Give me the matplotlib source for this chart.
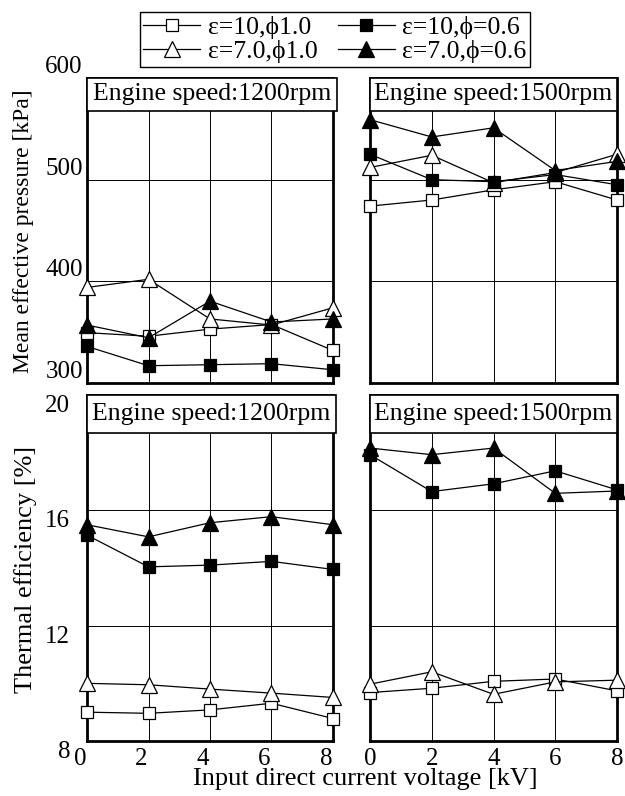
import numpy as np
import matplotlib.pyplot as plt
import matplotlib.transforms as mtransforms
from matplotlib.patches import Rectangle

plt.rcParams['font.family'] = ['Liberation Serif', 'DejaVu Serif']

voltage = [0, 2, 4, 6, 8]

# mean effective pressure [kPa]
mep_1200 = {
    'sq_open': [349.5, 346, 353, 357.5, 332],
    'sq_fill': [336, 317, 318, 319, 313],
    'tri_open': [394, 402, 363, 357, 374],
    'tri_fill': [357, 344.5, 380.5, 360, 363],
}
mep_1500 = {
    'sq_open': [474, 480, 490, 498, 480],
    'sq_fill': [525, 500, 498, 505, 495],
    'tri_open': [512, 524, 497, 507, 525],
    'tri_fill': [559, 542, 551, 509, 518],
}
# thermal efficiency [%]
eff_1200 = {
    'sq_open': [9.0, 8.96, 9.08, 9.31, 8.78],
    'sq_fill': [15.14, 14.04, 14.1, 14.23, 13.95],
    'tri_open': [10.0, 9.95, 9.8, 9.66, 9.51],
    'tri_fill': [15.5, 15.08, 15.57, 15.78, 15.5],
}
eff_1500 = {
    'sq_open': [9.68, 9.83, 10.07, 10.15, 9.74],
    'sq_fill': [17.93, 16.65, 16.92, 17.37, 16.71],
    'tri_open': [9.97, 10.4, 9.62, 10.05, 10.11],
    'tri_fill': [18.16, 17.93, 18.16, 16.59, 16.67],
}

labels = {
    'sq_open': 'ε=10,ϕ1.0',
    'sq_fill': 'ε=10,ϕ=0.6',
    'tri_open': 'ε=7.0,ϕ1.0',
    'tri_fill': 'ε=7.0,ϕ=0.6',
}
styles = {
    'sq_open': dict(marker='s', mfc='white', ms=8),
    'sq_fill': dict(marker='s', mfc='black', ms=8),
    'tri_open': dict(marker='^', mfc='white', ms=11),
    'tri_fill': dict(marker='^', mfc='black', ms=11),
}

W, H = 625, 796
fig = plt.figure(figsize=(W / 100, H / 100), dpi=100)


def make_axes(x0, y0, x1, y1):
    return fig.add_axes([x0 / W, 1 - y1 / H, (x1 - x0) / W, (y1 - y0) / H])


def draw_panel(ax, data, ylim, yticks, title, box_h, box_w=1.0):
    for key in ['sq_open', 'tri_open', 'sq_fill', 'tri_fill']:
        ax.plot(voltage, data[key], color='black', lw=0.9, mec='black',
                mew=0.9, clip_on=False, zorder=3, label=labels[key],
                **styles[key])
    ax.set_xlim(0, 8)
    ax.set_ylim(*ylim)
    ax.set_xticks([0, 2, 4, 6, 8])
    ax.set_yticks(yticks)
    ax.grid(True, color='black', lw=0.7)
    ax.tick_params(length=0, labelsize=18)
    for side in ['left', 'right', 'bottom']:
        ax.spines[side].set_linewidth(2.0)
    ax.spines['top'].set_linewidth(1.3)
    # title box sitting inside the top of the panel
    ax.add_patch(Rectangle((0, 1 - box_h), box_w, box_h, transform=ax.transAxes,
                           facecolor='white', edgecolor='black', lw=1.2,
                           clip_on=False, zorder=5))
    ax.text(box_w / 2, 1 - box_h / 2, title, transform=ax.transAxes,
            ha='center', va='center', fontsize=18.5, zorder=6)


ax_tl = make_axes(87, 78, 333, 383)
ax_tr = make_axes(370, 78, 617, 383)
ax_bl = make_axes(87, 395, 333, 741)
ax_br = make_axes(370, 395, 617, 741)

draw_panel(ax_tl, mep_1200, (300, 600), [300, 400, 500, 600],
           'Engine speed:1200rpm', 0.108, 1.016)
draw_panel(ax_tr, mep_1500, (300, 600), [300, 400, 500, 600],
           'Engine speed:1500rpm', 0.108)
draw_panel(ax_bl, eff_1200, (8, 20), [8, 12, 16, 20],
           'Engine speed:1200rpm', 0.11, 1.012)
draw_panel(ax_br, eff_1500, (8, 20), [8, 12, 16, 20],
           'Engine speed:1500rpm', 0.11)

for ax in [ax_tl, ax_tr]:
    ax.tick_params(labelbottom=False)
for ax in [ax_tr, ax_br]:
    ax.tick_params(labelleft=False)

ax_tl.tick_params(axis='y', pad=3)
for lab in ax_tl.get_yticklabels():
    lab.set_verticalalignment('bottom')
ax_bl.tick_params(axis='y', pad=12)
for lab in ax_bl.get_yticklabels():
    lab.set_verticalalignment('top')
ax_bl.tick_params(axis='x', pad=5)
ax_br.tick_params(axis='x', pad=5)
shift = mtransforms.ScaledTranslation(-7 / 100, 0, fig.dpi_scale_trans)
for lab in ax_bl.get_xticklabels():
    lab.set_transform(lab.get_transform() + shift)

fig.text(24 / W, 1 - 231 / H, 'Mean effective pressure [kPa]', rotation=90,
         ha='center', va='center', fontsize=17)
fig.text(26 / W, 1 - 569 / H, 'Thermal efficiency [%]', rotation=90,
         ha='center', va='center', fontsize=19)
fig.text(365 / W, 1 - 768 / H, 'Input direct current voltage [kV]',
         ha='center', va='top', fontsize=19)

handles, labs = ax_tl.get_legend_handles_labels()
fig.legend(handles, labs, ncol=2, loc='center',
           bbox_to_anchor=(335 / W, 1 - 39.5 / H), fontsize=18.5,
           frameon=True, fancybox=False, edgecolor='black', framealpha=1,
           borderpad=0.15, labelspacing=0.05, handlelength=2.2,
           handletextpad=0.3, columnspacing=0.8, borderaxespad=0)

fig.savefig('out.png', dpi=100)
